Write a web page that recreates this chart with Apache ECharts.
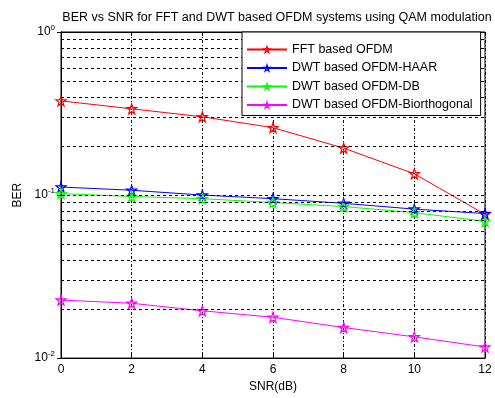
<!DOCTYPE html>
<html>
<head>
<meta charset="utf-8">
<script src="https://cdn.jsdelivr.net/npm/echarts@6/dist/echarts.min.js"></script>
<style>
  html, body { margin: 0; padding: 0; background: #fff; }
  #chart { width: 495px; height: 398px; }
</style>
</head>
<body>
<div id="chart"></div>
<script>
const snr = [0, 2, 4, 6, 8, 10, 12];
const fftOfdm = [0.378, 0.338, 0.302, 0.259, 0.194, 0.135, 0.0762];
const dwtHaar = [0.112, 0.107, 0.100, 0.095, 0.089, 0.082, 0.077];
const dwtDb = [0.102, 0.098, 0.095, 0.090, 0.085, 0.078, 0.069];
const dwtBior = [0.0227, 0.0217, 0.0195, 0.0178, 0.0154, 0.0135, 0.0117];
const minorGrid = [0.02, 0.03, 0.04, 0.05, 0.06, 0.07, 0.08, 0.09,
                   0.1, 0.2, 0.3, 0.4, 0.5, 0.6, 0.7, 0.8, 0.9];

const names = ['FFT based OFDM', 'DWT based OFDM-HAAR', 'DWT based OFDM-DB', 'DWT based OFDM-Biorthogonal'];
const colors = ['#ff0000', '#0000ff', '#00ff00', '#ff00ff'];
const values = [fftOfdm, dwtHaar, dwtDb, dwtBior];

const star = 'path://M50,0 L61,35 L98,35 L68,57 L79,91 L50,70 L21,91 L32,57 L2,35 L39,35 Z';
const font = 'Liberation Sans';

const chart = echarts.init(document.getElementById('chart'));

const logLabel = v => {
  const e = Math.round(Math.log10(v));
  return '10{sup|' + e + '}';
};

const gridStyle = { color: '#000', type: [3, 3], width: 1 };

const series = [
  {
    name: 'grid',
    type: 'line',
    data: [],
    silent: true,
    z: 1,
    markLine: {
      silent: true,
      symbol: 'none',
      label: { show: false },
      lineStyle: gridStyle,
      data: minorGrid.map(v => ({ yAxis: v }))
    }
  }
].concat(names.map((n, i) => ({
  name: n,
  type: 'line',
  data: snr.map((x, j) => [x, values[i][j]]),
  symbol: star,
  symbolSize: 10,
  showSymbol: true,
  lineStyle: { color: colors[i], width: 1 },
  itemStyle: { color: 'rgba(255,255,255,0)', borderColor: colors[i], borderWidth: 1.2 },
  z: 2
})));

chart.setOption({
  animation: false,
  title: {
    text: 'BER vs SNR for FFT and DWT based OFDM systems using QAM modulation',
    left: 272,
    textAlign: 'center',
    top: 6,
    textStyle: { fontFamily: font, fontSize: 12.5, fontWeight: 'normal', color: '#000' }
  },
  grid: { left: 61, right: 10, top: 32, bottom: 35, show: true, borderColor: '#000', borderWidth: 1 },
  legend: {
    data: names,
    orient: 'vertical',
    left: 242,
    top: 32,
    z: 20,
    padding: [11, 8, 4, 4],
    itemWidth: 40,
    itemHeight: 8,
    itemGap: 5.5,
    backgroundColor: '#fff',
    borderColor: '#000',
    borderWidth: 1,
    itemStyle: { color: 'rgba(255,255,255,0)', borderWidth: 1.2 },
    textStyle: { fontFamily: font, fontSize: 12.5, color: '#000', padding: [0, 0, 0, 0] }
  },
  xAxis: [
    {
      type: 'value',
      min: 0,
      max: 12,
      interval: 2,
      name: 'SNR(dB)',
      nameLocation: 'middle',
      nameGap: 20,
      nameTextStyle: { fontFamily: font, fontSize: 12, color: '#000' },
      axisLine: { lineStyle: { color: '#000' } },
      axisTick: { inside: true, length: 4, lineStyle: { color: '#000' } },
      axisLabel: { fontFamily: font, fontSize: 12, color: '#000', margin: 6 },
      splitLine: { show: true, lineStyle: { color: '#000', type: [3, 2, 1, 2] } }
    },
    {
      type: 'value',
      position: 'top',
      min: 0,
      max: 12,
      interval: 2,
      axisLine: { lineStyle: { color: '#000' } },
      axisTick: { inside: true, length: 4, lineStyle: { color: '#000' } },
      axisLabel: { show: false },
      splitLine: { show: false }
    }
  ],
  yAxis: [
    {
      type: 'log',
      logBase: 10,
      min: 0.01,
      max: 1,
      name: 'BER',
      nameLocation: 'middle',
      nameGap: 36,
      nameTextStyle: { fontFamily: font, fontSize: 12, color: '#000' },
      axisLine: { lineStyle: { color: '#000' } },
      axisTick: { inside: true, length: 4, lineStyle: { color: '#000' } },
      axisLabel: {
        formatter: logLabel,
        fontFamily: font,
        fontSize: 12,
        color: '#000',
        margin: 6,
        rich: { sup: { fontSize: 8, verticalAlign: 'top', padding: [0, 0, 8, 0], fontFamily: font } }
      },
      splitLine: { show: true, lineStyle: gridStyle }
    },
    {
      type: 'log',
      logBase: 10,
      min: 0.01,
      max: 1,
      position: 'right',
      axisLine: { show: true, lineStyle: { color: '#000' } },
      axisTick: { show: true, inside: true, length: 4, lineStyle: { color: '#000' } },
      axisLabel: { show: false },
      splitLine: { show: false }
    }
  ],
  series: series
});
</script>
</body>
</html>
